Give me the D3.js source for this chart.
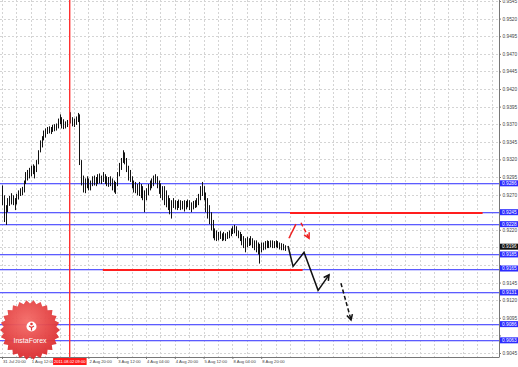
<!DOCTYPE html>
<html>
<head>
<meta charset="utf-8">
<title>H1 chart</title>
<script src="https://d3js.org/d3.v7.min.js"></script>
<style>
  body { margin: 0; background: #fff; }
  svg { display: block; font-family: "Liberation Sans", Arial, sans-serif; }
</style>
</head>
<body>
<script>
const w = 518;
const h = 367;
const plotRight = 499;
const plotBottom = 357;

// hourly bars
const barHigh = [0.9283,0.9269,0.9255,0.9265,0.9268,0.9272,0.9269,0.9265,0.9271,0.9276,
  0.9279,0.9281,0.9290,0.9302,0.9305,0.9308,0.9311,0.9313,0.9311,0.9319,
  0.9333,0.9347,0.9353,0.9361,0.9364,0.9366,0.9367,0.9366,0.9369,0.9370,
  0.9371,0.9378,0.9384,0.9380,0.9377,0.9374,0.9376,0.9378,0.9387,0.9380,
  0.9378,0.9381,0.9386,0.9384,0.9319,0.9297,0.9293,0.9296,0.9293,0.9290,
  0.9296,0.9297,0.9295,0.9299,0.9300,0.9297,0.9302,0.9299,0.9296,0.9295,
  0.9296,0.9293,0.9290,0.9288,0.9302,0.9315,0.9322,0.9333,0.9330,0.9322,
  0.9311,0.9305,0.9296,0.9290,0.9288,0.9285,0.9288,0.9285,0.9282,0.9276,
  0.9279,0.9285,0.9290,0.9293,0.9297,0.9299,0.9296,0.9290,0.9286,0.9282,
  0.9282,0.9276,0.9269,0.9265,0.9262,0.9265,0.9262,0.9261,0.9263,0.9262,
  0.9261,0.9262,0.9261,0.9263,0.9262,0.9259,0.9261,0.9262,0.9265,0.9271,
  0.9282,0.9288,0.9282,0.9273,0.9265,0.9255,0.9245,0.9234,0.9222,0.9219,
  0.9217,0.9218,0.9215,0.9217,0.9215,0.9217,0.9219,0.9222,0.9225,0.9227,
  0.9225,0.9219,0.9217,0.9214,0.9211,0.9208,0.9210,0.9208,0.9211,0.9208,
  0.9205,0.9205,0.9202,0.9200,0.9202,0.9202,0.9204,0.9205,0.9204,0.9205,
  0.9205,0.9204,0.9205,0.9204,0.9202,0.9201,0.9200,0.9198];
const barLow = [0.9255,0.9231,0.9227,0.9245,0.9254,0.9256,0.9255,0.9248,0.9256,0.9263,
  0.9268,0.9269,0.9273,0.9285,0.9290,0.9293,0.9296,0.9299,0.9293,0.9302,
  0.9313,0.9330,0.9337,0.9347,0.9351,0.9356,0.9357,0.9356,0.9359,0.9360,
  0.9361,0.9364,0.9370,0.9364,0.9363,0.9364,0.9366,0.9367,0.9371,0.9367,
  0.9366,0.9369,0.9373,0.9312,0.9283,0.9273,0.9272,0.9279,0.9276,0.9276,
  0.9282,0.9283,0.9282,0.9285,0.9286,0.9285,0.9288,0.9285,0.9282,0.9281,
  0.9282,0.9276,0.9273,0.9271,0.9282,0.9296,0.9305,0.9315,0.9313,0.9302,
  0.9290,0.9288,0.9279,0.9273,0.9272,0.9269,0.9268,0.9265,0.9262,0.9245,
  0.9262,0.9269,0.9276,0.9279,0.9282,0.9286,0.9279,0.9271,0.9265,0.9262,
  0.9255,0.9252,0.9248,0.9242,0.9236,0.9251,0.9249,0.9248,0.9251,0.9248,
  0.9249,0.9246,0.9249,0.9252,0.9248,0.9245,0.9249,0.9251,0.9252,0.9255,
  0.9262,0.9268,0.9262,0.9245,0.9236,0.9228,0.9219,0.9208,0.9205,0.9204,
  0.9205,0.9207,0.9204,0.9205,0.9204,0.9207,0.9208,0.9211,0.9214,0.9215,
  0.9211,0.9208,0.9204,0.9198,0.9194,0.9188,0.9195,0.9197,0.9198,0.9194,
  0.9191,0.9188,0.9185,0.9172,0.9188,0.9191,0.9192,0.9194,0.9194,0.9195,
  0.9194,0.9194,0.9195,0.9194,0.9192,0.9191,0.9191,0.9190];

const priceTicks = [0.9545,0.9520,0.9495,0.9470,0.9445,0.9420,0.9395,0.9370,0.9345,0.9320,
  0.9295,0.9270,0.9245,0.9220,0.9195,0.9170,0.9145,0.9120,0.9095,0.9070,0.9045];

// 2 Aug 04:00 sits under the cursor label, so it is not listed
const timeLabels = ["31 Jul 20:00","1 Aug 12:00","2 Aug 20:00","3 Aug 12:00",
  "4 Aug 04:00","4 Aug 20:00","5 Aug 12:00","8 Aug 04:00","8 Aug 20:00"];
const timeLabelBars = [0,16,48,64,80,96,112,128,144];

const blueLevels = [0.9286,0.9245,0.9228,0.9185,0.9165,0.9131,0.9086,0.9063];
const bidPrice = 0.9196;

const cursorBar = 37;
const cursorLabel = "2011.08.02 09:00";

const redLineFrom = [160, 56];
const redLineTo = [267, 167];
const redLinePrice = [0.9245, 0.9165];

// forecast arrows
const blackPathBars = [158.9, 161.7, 167.8, 175.6, 181.7];
const blackPathPrices = [0.9197, 0.9168, 0.9188, 0.9134, 0.9156];
const blackDashBars = [188.3, 193.9];
const blackDashPrices = [0.9144, 0.9092];
const redPathBars = [159.4, 163.3];
const redPathPrices = [0.9208, 0.9228];
const redDashBars = [166.1, 170.6];
const redDashPrices = [0.9230, 0.9208];

const xScale = d3.scaleLinear().domain([0, 277]).range([2, 2 + 1.8 * 277]);
const yScale = d3.scaleLinear().domain([0.9045, 0.9545]).range([353, 1]);
const crisp = v => Math.round(v) + 0.5;

const svg = d3.select("body").append("svg").attr("width", w).attr("height", h);

svg.append("defs").append("clipPath").attr("id", "plot")
  .append("rect").attr("x", 0).attr("y", 0).attr("width", plotRight).attr("height", plotBottom);

const plot = svg.append("g").attr("clip-path", "url(#plot)");

// grid
plot.selectAll(".hgrid").data(priceTicks).enter().append("line")
  .attr("x1", 0).attr("x2", plotRight)
  .attr("y1", d => crisp(yScale(d))).attr("y2", d => crisp(yScale(d)))
  .attr("stroke", "#d4d4d4").attr("stroke-dasharray", "2,2");
plot.selectAll(".vgrid").data(d3.range(0, 277, 8)).enter().append("line")
  .attr("x1", d => crisp(xScale(d))).attr("x2", d => crisp(xScale(d)))
  .attr("y1", 0).attr("y2", plotBottom)
  .attr("stroke", "#d4d4d4").attr("stroke-dasharray", "2,2");

// blue levels
plot.selectAll(".lvl").data(blueLevels).enter().append("rect")
  .attr("x", 0).attr("width", plotRight)
  .attr("y", d => Math.round(yScale(d))).attr("height", 1.3)
  .attr("fill", "#5c5cff");

// red trend lines
plot.selectAll(".red").data(redLinePrice).enter().append("line")
  .attr("x1", (d, i) => xScale(redLineFrom[i])).attr("x2", (d, i) => xScale(redLineTo[i]))
  .attr("y1", d => crisp(yScale(d)) + 0.5).attr("y2", d => crisp(yScale(d)) + 0.5)
  .attr("stroke", "#ff1e1e").attr("stroke-width", 2);

// bars
plot.selectAll(".bar").data(barHigh).enter().append("line")
  .attr("x1", (d, i) => crisp(xScale(i)))
  .attr("x2", (d, i) => crisp(xScale(i)))
  .attr("y1", d => yScale(d))
  .attr("y2", (d, i) => yScale(barLow[i]))
  .attr("stroke", "#111").attr("stroke-width", 1);

// vertical cursor line
plot.append("rect")
  .attr("x", Math.round(xScale(cursorBar))).attr("y", 0)
  .attr("width", 1.4).attr("height", plotBottom).attr("fill", "#ff3030");

// arrows
const line = d3.line().x(d => xScale(d[0])).y(d => yScale(d[1]));
function drawArrow(bars, prices, color, dashed) {
  const pts = bars.map((b, i) => [b, prices[i]]);
  plot.append("path").attr("d", line(pts)).attr("fill", "none")
    .attr("stroke", color).attr("stroke-width", 1.5)
    .attr("stroke-dasharray", dashed ? "4,2.5" : null);
  const n = pts.length;
  const x1 = xScale(pts[n - 2][0]), y1 = yScale(pts[n - 2][1]);
  const x2 = xScale(pts[n - 1][0]), y2 = yScale(pts[n - 1][1]);
  const a = Math.atan2(y2 - y1, x2 - x1);
  const len = 6;
  plot.append("path")
    .attr("d", "M" + (x2 - len * Math.cos(a - 0.5)) + "," + (y2 - len * Math.sin(a - 0.5)) +
      "L" + x2 + "," + y2 +
      "L" + (x2 - len * Math.cos(a + 0.5)) + "," + (y2 - len * Math.sin(a + 0.5)))
    .attr("fill", "none").attr("stroke", color).attr("stroke-width", 1.5);
}
drawArrow(blackPathBars, blackPathPrices, "#111", false);
drawArrow(blackDashBars, blackDashPrices, "#111", true);
plot.append("path").attr("d", line(redPathBars.map((b, i) => [b, redPathPrices[i]])))
  .attr("fill", "none").attr("stroke", "#ee2222").attr("stroke-width", 1.5);
drawArrow(redDashBars, redDashPrices, "#ee2222", true);

// axes; tick labels hidden where a price tag covers them
const tags = blueLevels.concat([bidPrice]);
const shownTicks = priceTicks.filter(t => d3.min(tags, p => Math.abs(yScale(p) - yScale(t))) > 5.5);
const yAxis = d3.axisRight(yScale).tickValues(priceTicks).tickSize(2).tickPadding(1.5)
  .tickFormat(d => shownTicks.includes(d) ? d3.format(".4f")(d) : "");
const gy = svg.append("g").attr("transform", "translate(" + plotRight + ",0)").call(yAxis);
gy.selectAll("text").attr("font-size", 4.8).attr("fill", "#444");
gy.selectAll("line").attr("stroke", "#777");
gy.select(".domain").attr("stroke", "#777").attr("d", "M0.5,0V" + plotBottom);

const xAxis = d3.axisBottom(xScale).tickValues(timeLabelBars).tickSize(2).tickPadding(1.5)
  .tickFormat((d, i) => timeLabels[i]);
const gx = svg.append("g").attr("transform", "translate(0," + plotBottom + ")").call(xAxis);
gx.selectAll("text").attr("font-size", 4.2).attr("fill", "#444")
  .attr("text-anchor", "start").attr("x", 0.5);
gx.selectAll("line").attr("stroke", "#777");
gx.select(".domain").attr("stroke", "#777").attr("d", "M0,0.5H" + (plotRight + 0.5));

// highlighted price labels
function priceTag(p, fill) {
  const y = yScale(p);
  svg.append("rect").attr("x", plotRight + 1).attr("y", y - 3).attr("width", 18).attr("height", 6)
    .attr("fill", fill);
  svg.append("text").attr("x", plotRight + 3).attr("y", y + 1.7).attr("font-size", 4.8)
    .attr("fill", "#fff").text(d3.format(".4f")(p));
}
blueLevels.forEach(p => priceTag(p, "#2b2bff"));
priceTag(bidPrice, "#111");

// cursor time label
const cx = xScale(cursorBar);
svg.append("rect").attr("x", cx - 15.5).attr("y", plotBottom + 1).attr("width", 33.5).attr("height", 7)
  .attr("fill", "#ff1a1a");
svg.append("text").attr("x", cx + 1.2).attr("y", plotBottom + 6.3).attr("text-anchor", "middle")
  .attr("font-size", 4.1).attr("fill", "#fff").text(cursorLabel);

// InstaForex badge
const bx = 30, by = 330, teeth = 26;
const seal = d3.range(teeth * 2).map(k => {
  const r = k % 2 === 0 ? 30 : 26.5;
  const a = k * Math.PI / teeth;
  return [bx + r * Math.cos(a), by + r * Math.sin(a)];
});
const grad = svg.select("defs").append("radialGradient").attr("id", "badge")
  .attr("cx", "45%").attr("cy", "35%").attr("r", "70%");
grad.append("stop").attr("offset", "0%").attr("stop-color", "#f46a66");
grad.append("stop").attr("offset", "100%").attr("stop-color", "#d8262a");
svg.append("path").attr("d", d3.line()(seal) + "Z").attr("fill", "url(#badge)").attr("opacity", 0.95);
svg.append("circle").attr("cx", bx + 1.5).attr("cy", by - 3.5).attr("r", 5).attr("fill", "#fff");
svg.append("circle").attr("cx", bx + 1.5).attr("cy", by - 6).attr("r", 1.3).attr("fill", "#e23a3a");
svg.append("path").attr("d", "M" + (bx - 1) + "," + (by - 4) + "L" + (bx + 1.5) + "," + (by - 2.5) +
  "L" + (bx + 4) + "," + (by - 4) + "M" + (bx + 1.5) + "," + (by - 2.5) + "V" + (by + 0.5))
  .attr("stroke", "#e23a3a").attr("stroke-width", 1.2).attr("fill", "none");
svg.append("text").attr("x", bx).attr("y", by + 13).attr("text-anchor", "middle")
  .attr("font-size", 7).attr("fill", "#fff").text("InstaForex");
</script>
</body>
</html>
